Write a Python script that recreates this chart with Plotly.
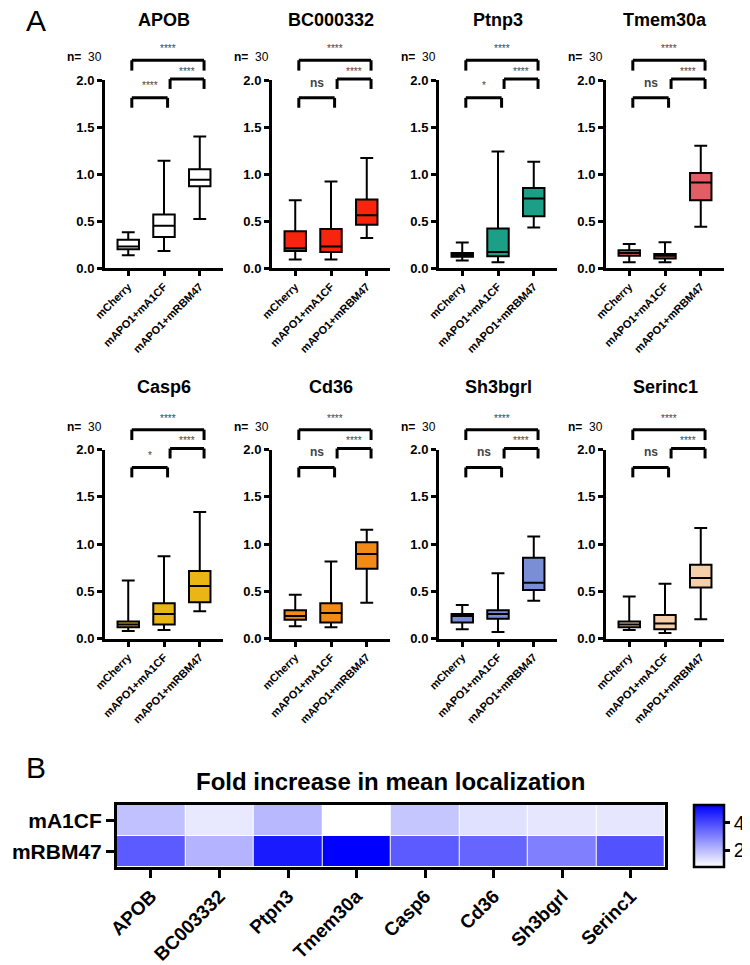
import plotly.graph_objects as go

W, H = 750, 965
FONT = "Liberation Sans, Arial, sans-serif"

genes = ["APOB", "BC000332", "Ptnp3", "Tmem30a", "Casp6", "Cd36", "Sh3bgrl", "Serinc1"]
groups = ["mCherry", "mAPO1+mA1CF", "mAPO1+mRBM47"]
box_colors = ["#FFFFFF", "#F7240E", "#1BA087", "#E25E64",
              "#EAB616", "#F28A16", "#7A8ED6", "#F5CFAA"]

# per gene: [mCherry, mA1CF, mRBM47]
whisk_lo = [[0.135, 0.18, 0.52], [0.09, 0.09, 0.32], [0.08, 0.06, 0.43], [0.06, 0.06, 0.44],
            [0.08, 0.09, 0.29], [0.13, 0.12, 0.38], [0.10, 0.07, 0.40], [0.09, 0.06, 0.205]]
box_q1 = [[0.20, 0.33, 0.87], [0.18, 0.17, 0.46], [0.12, 0.125, 0.55], [0.13, 0.10, 0.72],
          [0.12, 0.15, 0.385], [0.20, 0.17, 0.74], [0.17, 0.21, 0.515], [0.12, 0.10, 0.54]]
box_med = [[0.23, 0.45, 0.94], [0.21, 0.23, 0.56], [0.14, 0.17, 0.74], [0.16, 0.13, 0.91],
           [0.15, 0.26, 0.555], [0.24, 0.27, 0.895], [0.24, 0.26, 0.59], [0.15, 0.16, 0.64]]
box_q3 = [[0.30, 0.57, 1.05], [0.39, 0.415, 0.73], [0.16, 0.42, 0.85], [0.19, 0.15, 1.01],
          [0.18, 0.375, 0.715], [0.30, 0.375, 1.02], [0.26, 0.30, 0.855], [0.18, 0.25, 0.78]]
whisk_hi = [[0.38, 1.14, 1.40], [0.72, 0.92, 1.17], [0.27, 1.24, 1.13], [0.255, 0.275, 1.30],
            [0.615, 0.87, 1.34], [0.465, 0.815, 1.15], [0.355, 0.69, 1.08], [0.445, 0.58, 1.17]]

n_per_group = 30
sig_cherry_rbm47 = ["****"] * 8
sig_a1cf_rbm47 = ["****"] * 8
sig_cherry_a1cf = ["****", "ns", "*", "ns", "*", "ns", "ns", "ns"]

heat_genes = ["APOB", "BC003332", "Ptpn3", "Tmem30a", "Casp6", "Cd36", "Sh3bgrl", "Serinc1"]
heat_rows = ["mA1CF", "mRBM47"]
fold_a1cf = [1.9, 1.2, 2.05, 0.8, 1.8, 1.35, 1.25, 1.25]
fold_rbm47 = [3.7, 2.15, 4.85, 5.3, 3.7, 3.5, 3.05, 3.85]

# the page puts the figure 8px in from the top-left corner (default body margin)
OFF = 8


def fx(p):
    return (p - OFF) / W


def fy(p):
    return 1 - (p - OFF) / H


col_left = [105, 272, 439, 606]
col_w = 118
row_zero = [268, 638.6]
row_two = [80, 449.5]

fig = go.Figure()
layout = dict(width=W, height=H, margin=dict(l=0, r=0, t=0, b=0, autoexpand=False),
              paper_bgcolor="white", plot_bgcolor="white",
              font=dict(family=FONT, color="black"), showlegend=False)
annotations = []
shapes = []

for k, gene in enumerate(genes):
    s = "" if k == 0 else str(k + 1)
    r, c = divmod(k, 4)
    fig.add_trace(go.Box(
        x=[0, 1, 2], q1=box_q1[k], median=box_med[k], q3=box_q3[k],
        lowerfence=whisk_lo[k], upperfence=whisk_hi[k],
        fillcolor=box_colors[k], line=dict(color="black", width=2),
        width=0.6, whiskerwidth=0.6, xaxis=f"x{s}", yaxis=f"y{s}",
        hoverinfo="skip"))
    x0, x1 = fx(col_left[c]), fx(col_left[c] + col_w)
    layout[f"xaxis{s}"] = dict(
        domain=[x0, x1], anchor=f"y{s}", range=[-0.65, 2.65],
        tickvals=[0, 1, 2], ticktext=groups, tickangle=-45,
        tickfont=dict(size=11, weight="bold"),
        showline=True, linewidth=3, linecolor="black",
        ticks="outside", ticklen=5, tickwidth=2.5, tickcolor="black",
        showgrid=False, zeroline=False)
    layout[f"yaxis{s}"] = dict(
        domain=[fy(row_zero[r]), fy(row_two[r])], anchor=f"x{s}", range=[0, 2],
        tickvals=[0, 0.5, 1, 1.5, 2], tickformat=".1f",
        tickfont=dict(size=13, weight="bold"),
        showline=True, linewidth=3, linecolor="black",
        ticks="outside", ticklen=5, tickwidth=2.5, tickcolor="black",
        showgrid=False, zeroline=False)

    # title and n
    annotations.append(dict(text=f"<b>{gene}</b>", x=(x0 + x1) / 2, xref="paper",
                            y=fy(20 + r * 367), yref="paper", showarrow=False,
                            font=dict(size=18), xanchor="center", yanchor="middle"))
    annotations.append(dict(text=f"<b>n=</b>  {n_per_group}", x=fx(col_left[c] - 40), xref="paper",
                            y=fy(57 + r * 370), yref="paper", showarrow=False,
                            font=dict(size=12), xanchor="left", yanchor="middle"))

    # significance brackets (y in data units, converted to domain fraction)
    brackets = [(0.1, 2.12, 2.21, 2.10, 2.36, sig_cherry_rbm47[k]),
                (1.17, 2.12, 2.01, 1.905, 2.125, sig_a1cf_rbm47[k]),
                (0.1, 1.1, 1.81, 1.705, 1.97, sig_cherry_a1cf[k])]
    for bx0, bx1, top, foot, ty, label in brackets:
        for sx0, sy0, sx1, sy1 in [(bx0, foot, bx0, top), (bx0, top, bx1, top), (bx1, top, bx1, foot)]:
            shapes.append(dict(type="line", xref=f"x{s}", yref=f"y{s} domain",
                               x0=sx0, x1=sx1, y0=sy0 / 2, y1=sy1 / 2, layer="above",
                               line=dict(color="black", width=3)))
        small = label != "ns"
        annotations.append(dict(text=label if small else "<b>ns</b>", x=(bx0 + bx1) / 2, xref=f"x{s}",
                                y=(ty + (-0.03 if small else 0)) / 2, yref=f"y{s} domain",
                                showarrow=False, font=dict(size=10 if small else 12, color="#444"),
                                xanchor="center", yanchor="middle"))

# heatmap
fig.add_trace(go.Heatmap(
    x=heat_genes, y=heat_rows, z=[fold_a1cf, fold_rbm47],
    colorscale=[[0, "#FFFFFF"], [1, "#0000FF"]], xaxis="x9", yaxis="y9",
    xgap=1, ygap=1, hoverinfo="skip",
    colorbar=dict(x=fx(694), xanchor="left", thickness=30, thicknessmode="pixels",
                  len=62 / H, lenmode="fraction", y=fy(836), yanchor="middle",
                  xpad=0, ypad=0,
                  outlinewidth=2.5, outlinecolor="black",
                  tickvals=[2, 4], ticks="outside", ticklen=5, tickwidth=2.5,
                  tickcolor="black", tickfont=dict(size=20))))
layout["xaxis9"] = dict(domain=[fx(116.7), fx(665)], anchor="y9",
                        showline=True, mirror=True, linewidth=2.5, linecolor="black",
                        ticks="outside", ticklen=8, tickwidth=2.5, tickcolor="black",
                        tickangle=-45, tickfont=dict(size=19, weight="bold"), showgrid=False)
layout["yaxis9"] = dict(domain=[fy(867), fy(805)], anchor="x9", autorange="reversed",
                        showline=True, mirror=True, linewidth=2.5, linecolor="black",
                        ticks="outside", ticklen=8, tickwidth=2.5, tickcolor="black",
                        tickfont=dict(size=21, weight="bold"), showgrid=False)

annotations.append(dict(text="<b>Fold increase in mean localization</b>", x=fx(390), xref="paper",
                        y=fy(781), yref="paper", showarrow=False, font=dict(size=24),
                        xanchor="center", yanchor="middle"))
annotations.append(dict(text="A", x=fx(36), xref="paper", y=fy(21), yref="paper",
                        showarrow=False, font=dict(size=30), xanchor="center", yanchor="middle"))
annotations.append(dict(text="B", x=fx(36), xref="paper", y=fy(767), yref="paper",
                        showarrow=False, font=dict(size=30), xanchor="center", yanchor="middle"))

layout["annotations"] = annotations
layout["shapes"] = shapes
fig.update_layout(layout)
fig.write_html("out.html")
